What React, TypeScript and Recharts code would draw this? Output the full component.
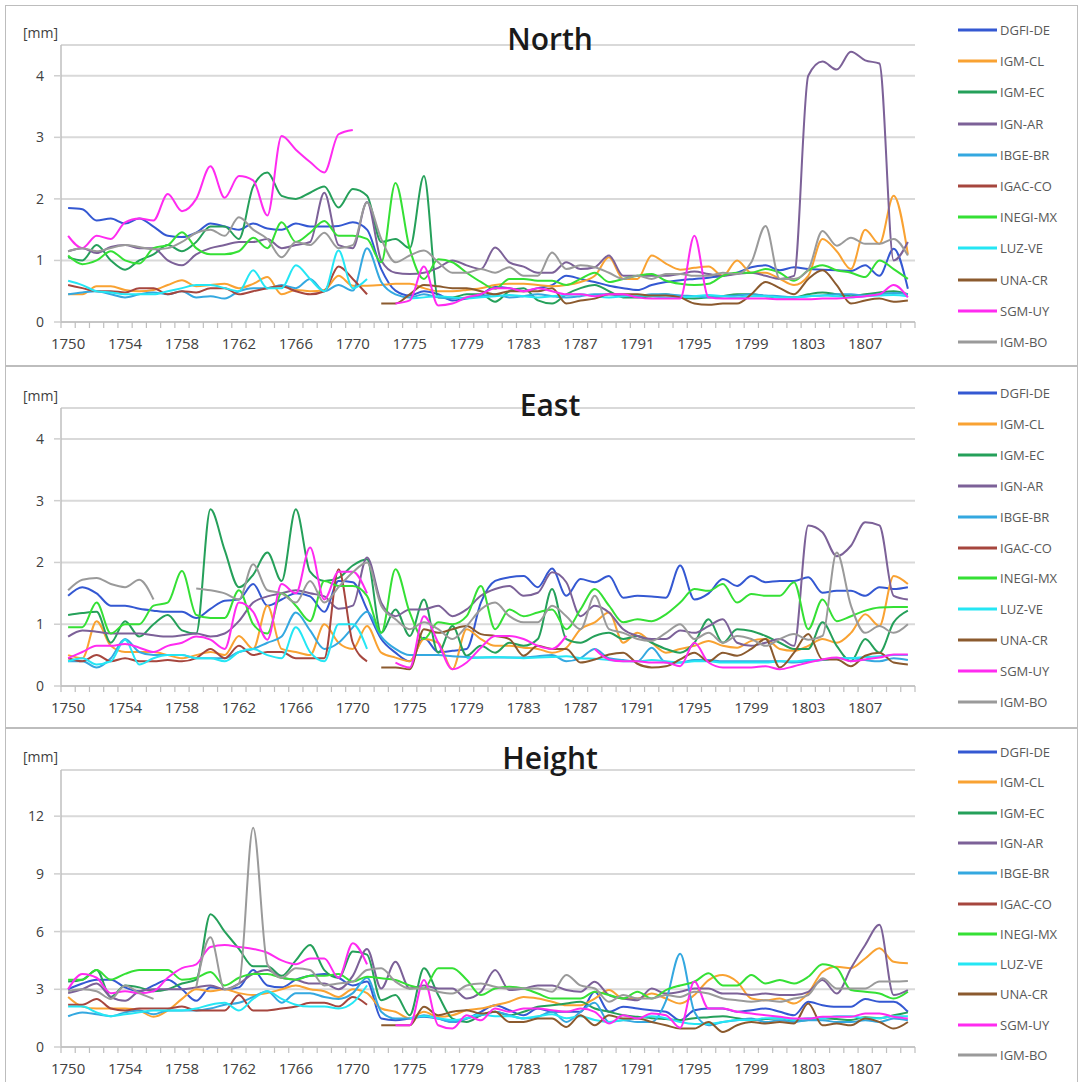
import React from 'react';
import { LineChart, Line, XAxis, YAxis, CartesianGrid } from 'recharts';

const FONT = '"Open Sans", "Noto Sans", sans-serif';
const n = null;

// GPS weeks on the x axis (1773 missing in the source series)
const weeks = [
  1750, 1751, 1752, 1753, 1754, 1755, 1756, 1757, 1758, 1759,
  1760, 1761, 1762, 1763, 1764, 1765, 1766, 1767, 1768, 1769,
  1770, 1771, 1772, 1774, 1775, 1776, 1777, 1778, 1779, 1780,
  1781, 1782, 1783, 1784, 1785, 1786, 1787, 1788, 1789, 1790,
  1791, 1792, 1793, 1794, 1795, 1796, 1797, 1798, 1799, 1800,
  1801, 1802, 1803, 1804, 1805, 1806, 1807, 1808, 1809, 1810,
];

const northTicks = [0, 1, 2, 3, 4];
const eastTicks = [0, 1, 2, 3, 4];
const heightTicks = [0, 3, 6, 9, 12];

// ── North [mm] ───────────────────────────────────────────────
const northDE = [1.85,1.83,1.65,1.68,1.6,1.68,1.55,1.4,1.38,1.45, 1.6,1.55,1.5,1.6,1.52,1.5,1.6,1.55,1.55,1.56, 1.62,1.5,0.86,0.51,0.43,0.5,0.45,0.35,0.38,0.45, 0.57,0.55,0.5,0.55,0.6,0.75,0.7,0.65,0.59,0.55, 0.52,0.6,0.65,0.68,0.7,0.72,0.75,0.8,0.89,0.92, 0.84,0.89,0.86,0.85,0.84,0.83,0.92,0.75,1.19,0.54];
const northCL = [0.45,0.45,0.58,0.58,0.52,0.5,0.52,0.6,0.68,0.58, 0.6,0.62,0.55,0.62,0.73,0.45,0.52,0.5,0.52,0.75, 0.59,0.59,0.6,0.62,0.62,0.55,0.5,0.5,0.52,0.55, 0.6,0.62,0.62,0.6,0.58,0.6,0.65,0.75,1.05,0.7, 0.7,1.08,0.95,0.85,0.88,0.9,0.75,1.0,0.8,0.8, 0.7,0.6,0.75,1.35,1.15,0.86,1.5,1.27,2.05,1.1];
const northEC = [1.05,1.0,1.25,1.0,0.85,1.0,1.1,1.25,1.15,1.3, 1.55,1.55,1.35,2.2,2.43,2.05,2.0,2.1,2.2,1.86, 2.16,2.05,1.3,1.35,1.2,2.37,0.4,0.4,0.45,0.45, 0.33,0.5,0.55,0.35,0.3,0.45,0.55,0.6,0.5,0.4, 0.4,0.42,0.45,0.4,0.38,0.4,0.42,0.45,0.45,0.42, 0.4,0.4,0.45,0.48,0.45,0.42,0.45,0.48,0.5,0.45];
const northAR = [1.15,1.2,1.12,1.22,1.25,1.2,1.2,1.0,0.92,1.1, 1.2,1.25,1.3,1.3,1.35,1.2,1.25,1.3,2.1,1.25, 1.2,1.95,1.0,0.8,0.78,0.8,0.88,1.0,0.92,0.86, 1.21,0.97,0.9,0.8,0.8,0.97,0.86,0.89,1.08,0.75, 0.75,0.75,0.75,0.78,0.82,0.78,0.75,0.78,0.8,0.75, 0.7,0.75,4.0,4.23,4.1,4.39,4.25,4.2,1.0,1.3];
const northBR = [0.45,0.48,0.5,0.45,0.4,0.45,0.48,0.45,0.5,0.4, 0.42,0.38,0.5,0.55,0.55,0.6,0.55,0.7,0.5,0.6, 0.51,1.2,0.65,0.45,0.4,0.45,0.4,0.38,0.4,0.42, 0.45,0.4,0.42,0.45,0.42,0.4,0.42,0.45,0.45,0.42, 0.42,0.45,0.45,0.43,0.42,0.4,0.42,0.43,0.45,0.43, 0.42,0.4,0.42,0.43,0.45,0.45,0.43,0.45,0.47,0.45];
const northCO = [0.6,0.55,0.5,0.5,0.48,0.55,0.55,0.45,0.5,0.48, 0.55,0.55,0.45,0.5,0.55,0.58,0.5,0.45,0.5,0.9, 0.7,0.45,n,n,n,n,n,n,n,n, n,n,n,n,n,n,n,n,n,n, n,n,n,n,n,n,n,n,n,n, n,n,n,n,n,n,n,n,n,n];
const northMX = [1.08,0.94,1.0,1.15,1.0,0.95,1.2,1.25,1.46,1.2, 1.1,1.1,1.15,1.37,1.2,1.62,1.3,1.45,1.64,1.4, 1.4,1.35,0.97,2.26,1.19,0.7,1.02,0.97,0.8,0.65, 0.54,0.7,0.7,0.67,0.67,0.6,0.7,0.8,0.65,0.7, 0.75,0.78,0.67,0.62,0.6,0.62,0.75,0.8,0.8,0.86, 0.8,0.67,0.84,0.92,0.84,0.8,0.73,1.0,0.86,0.7];
const northVE = [0.67,0.6,0.5,0.48,0.45,0.45,0.45,0.5,0.55,0.6, 0.6,0.55,0.5,0.84,0.55,0.55,0.92,0.7,0.5,1.16, 0.55,0.7,n,n,0.38,0.4,0.42,0.4,0.38,0.4, 0.42,0.44,0.42,0.4,0.42,0.44,0.45,0.42,0.4,0.42, 0.44,0.42,0.4,0.4,0.42,0.44,0.42,0.4,0.42,0.42, 0.4,0.4,0.42,0.43,0.42,0.4,0.42,0.43,0.44,0.42];
const northCR = [n,n,n,n,n,n,n,n,n,n, n,n,n,n,n,n,n,n,n,n, n,n,0.3,0.3,0.45,0.6,0.58,0.55,0.55,0.5, 0.45,0.5,0.5,0.5,0.55,0.3,0.35,0.38,0.45,0.45, 0.45,0.43,0.43,0.4,0.3,0.28,0.3,0.3,0.45,0.65, 0.55,0.45,0.7,0.84,0.6,0.3,0.35,0.38,0.33,0.35];
const northUY = [1.4,1.2,1.4,1.35,1.62,1.68,1.65,2.08,1.8,2.0, 2.53,2.02,2.37,2.3,1.73,3.02,2.8,2.6,2.43,3.05, 3.12,n,n,0.3,0.35,0.9,0.27,0.3,0.4,0.45, 0.55,0.55,0.5,0.55,0.5,0.45,0.45,0.42,0.45,0.45, 0.4,0.38,0.38,0.38,1.4,0.4,0.38,0.38,0.38,0.38, 0.37,0.37,0.37,0.38,0.38,0.4,0.42,0.45,0.6,0.4];
const northBO = [1.15,1.2,1.15,1.2,1.25,1.22,1.18,1.2,1.3,1.45, 1.5,1.4,1.7,1.5,1.35,1.05,1.3,1.25,1.45,1.2, 1.25,1.94,1.35,0.97,1.08,1.16,0.97,0.8,0.8,0.86, 0.8,0.89,0.75,0.75,1.13,0.86,0.92,0.89,0.8,0.7, 0.75,0.7,0.78,0.78,0.75,0.75,0.8,0.78,0.97,1.56, 0.7,0.7,0.85,1.48,1.24,1.37,1.27,1.27,1.35,1.08];

// ── East [mm] ────────────────────────────────────────────────
const eastDE = [1.46,1.6,1.5,1.3,1.3,1.25,1.22,1.2,1.2,1.1, 1.25,1.38,1.4,1.65,1.3,1.4,1.5,1.45,1.2,1.7, 1.68,1.24,0.76,0.54,0.4,0.78,0.55,0.57,0.6,1.35, 1.7,1.76,1.78,1.6,1.9,1.46,1.73,1.68,1.78,1.43, 1.46,1.45,1.43,1.95,1.4,1.5,1.73,1.62,1.78,1.68, 1.7,1.7,1.76,1.51,1.54,1.54,1.46,1.6,1.57,1.6];
const eastCL = [0.5,0.45,1.05,0.65,0.55,0.55,0.55,0.5,0.45,0.5, 0.55,0.5,0.81,0.6,1.3,0.6,0.55,0.5,1.0,0.7, 0.6,0.97,0.54,0.46,0.4,0.76,0.7,0.27,0.92,0.76, 0.65,0.65,0.62,0.6,0.54,0.62,0.92,1.03,1.19,0.7, 0.86,0.7,0.54,0.6,0.65,0.73,0.65,0.62,0.73,0.76, 0.6,0.57,0.65,0.76,0.7,0.86,1.16,0.97,1.78,1.65];
const eastEC = [1.15,1.18,1.2,0.7,1.05,0.8,1.0,1.15,0.9,0.85, 2.86,2.2,1.6,1.8,2.16,1.7,2.86,1.85,1.7,1.75, 1.95,2.05,0.86,1.24,0.81,1.4,0.54,0.97,0.49,0.65, 0.54,0.7,0.65,0.76,1.57,0.76,0.7,0.81,0.86,0.76, 0.81,0.7,0.6,0.54,0.7,1.08,0.7,0.92,0.89,0.81, 0.7,0.6,0.6,1.03,0.65,0.4,0.76,0.54,1.03,1.22];
const eastAR = [0.8,0.9,0.88,0.85,0.85,0.85,0.82,0.8,0.82,0.85, 0.8,0.85,1.05,1.35,1.45,1.5,1.55,1.5,1.45,1.25, 1.3,2.08,1.35,1.13,1.24,1.24,1.3,1.13,1.24,1.46, 1.57,1.62,1.46,1.51,1.84,1.68,1.13,1.3,1.19,0.92, 0.81,0.76,0.76,0.9,0.86,0.97,1.08,0.7,0.65,0.7, 0.76,0.65,2.6,2.49,2.1,2.27,2.65,2.6,1.46,1.4];
const eastBR = [0.4,0.4,0.3,0.45,0.76,0.55,0.5,0.5,0.5,0.45, 0.45,0.45,0.55,0.6,0.7,0.8,1.19,0.9,0.6,0.7, 0.95,1.2,0.8,0.6,0.5,0.5,0.5,0.48,0.47,0.46, 0.46,0.46,0.46,0.48,0.5,0.4,0.45,0.6,0.45,0.42, 0.4,0.62,0.38,0.38,0.42,0.42,0.4,0.4,0.4,0.4, 0.4,0.38,0.4,0.42,0.45,0.45,0.42,0.4,0.45,0.42];
const eastCO = [0.45,0.4,0.5,0.4,0.45,0.4,0.4,0.42,0.4,0.45, 0.6,0.45,0.65,0.5,0.55,0.55,0.45,0.45,0.45,1.89, 0.7,0.4,n,n,n,n,n,n,n,n, n,n,n,n,n,n,n,n,n,n, n,n,n,n,n,n,n,n,n,n, n,n,n,n,n,n,n,n,n,n];
const eastMX = [0.95,0.95,1.35,0.85,1.0,1.0,1.3,1.35,1.86,1.15, 1.1,1.1,1.55,1.0,0.85,1.5,1.3,1.05,1.7,1.62, 1.62,1.46,0.86,1.89,1.19,0.76,1.03,1.0,1.13,1.62, 0.92,1.24,1.13,1.19,1.24,0.92,1.24,1.57,1.3,1.03, 1.08,1.05,1.16,1.35,1.57,1.54,1.65,1.35,1.49,1.46, 1.46,1.68,0.92,1.4,1.05,1.13,1.22,1.27,1.28,1.28];
const eastVE = [0.4,0.45,0.35,0.4,0.75,0.35,0.45,0.5,0.5,0.45, 0.45,0.4,0.55,0.6,0.5,0.45,0.95,0.55,0.4,1.0, 1.0,0.6,n,n,n,n,n,n,0.45,0.46, 0.47,0.46,0.45,0.46,0.47,0.48,0.45,0.44,0.42,0.4, 0.4,0.42,0.4,0.38,0.4,0.4,0.38,0.38,0.38,0.38, 0.4,0.4,0.42,0.42,0.45,0.45,0.47,0.48,0.5,0.5];
const eastCR = [n,n,n,n,n,n,n,n,n,n, n,n,n,n,n,n,n,n,n,n, n,n,0.3,0.3,0.27,0.92,0.86,0.92,0.97,0.84, 0.81,0.76,0.49,0.65,0.6,0.6,0.38,0.43,0.51,0.54, 0.36,0.3,0.32,0.43,0.54,0.4,0.54,0.49,0.6,0.76, 0.3,0.54,0.84,0.43,0.43,0.32,0.49,0.54,0.38,0.35];
const eastUY = [0.45,0.55,0.65,0.65,0.68,0.62,0.55,0.65,0.7,0.8, 0.75,0.6,1.35,1.2,0.75,1.65,1.5,2.24,1.4,1.85, 1.85,1.5,n,0.38,0.3,1.13,0.7,0.27,0.38,0.62, 0.81,0.81,0.76,0.65,0.6,0.81,n,0.6,0.43,0.4, 0.4,0.38,0.38,0.32,0.7,0.38,0.3,0.3,0.3,0.32, 0.27,0.32,0.38,0.43,0.46,0.4,0.43,0.46,0.51,0.51];
const eastBO = [1.55,1.72,1.75,1.65,1.6,1.72,1.4,n,n,1.58, 1.55,1.5,1.4,1.97,1.55,1.5,1.35,1.7,1.35,1.6, 1.84,2.0,1.3,1.08,0.92,1.03,0.92,0.76,0.97,1.24, 1.35,1.13,1.03,1.03,1.3,1.13,0.92,1.46,0.92,0.86, 0.76,0.73,0.86,1.0,0.76,0.86,0.7,0.81,0.76,0.65, 0.76,0.84,0.75,0.81,2.16,1.3,0.86,0.97,0.86,1.0];

// ── Height [mm] ──────────────────────────────────────────────
const heightDE = [3.0,3.3,3.5,3.5,3.1,2.9,3.2,3.5,3.0,2.4, 3.1,3.0,3.1,4.0,3.2,3.1,3.5,3.7,3.8,3.6, 3.2,3.4,1.48,1.39,1.48,1.57,1.48,1.3,1.48,1.83, 2.17,1.91,1.65,2.0,1.83,1.83,1.83,2.87,1.83,2.09, 2.0,1.91,1.83,1.39,1.91,2.0,2.0,1.83,1.91,2.0, 1.83,1.65,2.35,2.17,2.09,2.09,2.5,2.35,2.35,1.83];
const heightCL = [2.6,2.1,2.0,2.0,2.0,1.9,1.57,1.9,2.5,3.0, 2.9,3.0,2.8,2.7,2.8,3.0,3.2,3.0,2.9,2.6, 3.0,2.8,2.0,1.83,1.48,1.83,1.57,1.65,1.91,2.0, 2.17,2.35,2.6,2.52,2.35,2.17,2.17,2.52,2.96,2.52, 2.52,2.78,2.52,2.26,2.7,3.48,3.74,3.39,2.52,2.43, 2.52,2.26,2.8,3.9,4.17,4.1,4.6,5.13,4.43,4.35];
const heightEC = [3.4,3.5,4.0,2.6,3.2,3.1,2.9,3.0,3.3,3.5, 6.9,6.0,5.1,4.2,4.2,3.7,4.5,5.3,4.0,3.6, 4.96,4.8,2.43,2.7,1.65,4.09,2.7,1.48,1.3,1.65, 1.83,1.65,1.83,2.09,2.17,2.26,2.35,2.0,1.83,1.65, 1.57,1.5,1.45,1.4,1.5,1.55,1.6,1.5,1.4,1.45, 1.5,1.35,1.4,1.5,1.45,1.4,1.55,1.5,1.65,1.8];
const heightAR = [2.8,3.0,3.3,2.6,2.4,2.9,3.0,3.0,3.0,3.1, 3.2,3.0,3.3,3.8,4.0,3.6,3.5,3.3,3.3,3.0, 3.7,5.1,3.04,4.43,3.04,3.2,3.04,3.04,2.52,2.87, 4.0,2.96,3.04,3.2,3.2,2.96,2.87,3.39,2.7,2.52, 2.43,3.04,2.78,2.87,3.04,3.04,2.78,2.78,2.7,2.78, 2.7,2.7,2.87,3.48,2.78,4.09,5.3,6.35,2.7,2.96];
const heightBR = [1.6,1.8,1.7,1.6,1.8,1.9,1.7,1.9,1.9,1.9, 2.0,2.2,2.3,2.6,2.9,2.3,2.8,2.8,2.6,2.5, 2.8,3.6,1.83,1.48,1.48,1.65,1.48,1.3,1.48,1.65, 1.83,1.65,1.48,1.57,1.83,1.3,1.83,2.3,1.3,1.39, 1.3,1.3,2.4,4.85,1.83,1.13,1.3,1.39,1.48,1.3, 1.39,1.3,1.39,1.39,1.3,1.3,1.39,1.3,1.48,1.39];
const heightCO = [2.2,2.2,2.5,2.0,1.9,2.0,2.0,2.0,2.1,1.9, 1.9,1.9,2.7,1.9,1.9,2.0,2.1,2.3,2.3,2.1, 2.6,2.2,n,n,n,n,n,n,n,n, n,n,n,n,n,n,n,n,n,n, n,n,n,n,n,n,n,n,n,n, n,n,n,n,n,n,n,n,n,n];
const heightMX = [3.5,3.5,4.0,3.5,3.8,4.0,4.0,4.0,3.5,3.6, 3.9,3.2,3.6,3.8,3.8,3.6,3.5,3.7,3.7,3.8, 3.4,3.65,3.57,3.48,3.2,3.04,4.1,4.1,3.5,2.7, 3.04,3.13,3.04,2.78,2.52,2.52,2.52,2.87,2.7,2.52, 2.87,2.52,2.96,3.2,3.39,3.83,3.2,3.2,3.74,3.3, 3.48,3.3,3.65,4.3,4.1,2.96,2.87,2.78,2.52,2.87];
const heightVE = [2.1,2.1,1.8,1.6,1.7,1.8,1.9,1.9,1.9,2.0, 2.2,2.3,1.9,2.5,2.9,2.5,2.2,2.1,2.1,2.0, 2.3,3.2,n,n,1.5,1.6,1.5,1.4,1.5,1.7, 1.6,1.6,1.5,1.6,1.7,1.5,1.6,1.4,1.3,1.4, 1.5,1.6,1.5,1.3,1.2,1.2,1.3,1.4,1.4,1.5, 1.5,1.4,1.5,1.5,1.6,1.6,1.5,1.5,1.6,1.6];
const heightCR = [n,n,n,n,n,n,n,n,n,n, n,n,n,n,n,n,n,n,n,n, n,n,1.13,1.13,1.13,2.09,1.65,1.83,1.91,1.74, 1.83,1.3,1.3,1.48,1.48,1.04,1.65,1.13,1.65,1.48, 1.48,1.3,1.13,0.96,0.96,1.3,0.78,1.13,1.3,1.22, 1.3,1.22,2.26,1.13,1.22,1.13,1.48,1.3,0.96,1.3];
const heightUY = [3.0,3.8,3.6,2.8,2.9,2.8,2.9,3.6,4.1,4.3, 5.2,5.3,5.2,5.1,4.9,4.5,4.3,4.6,4.6,3.6, 5.4,4.3,n,1.13,1.13,3.48,1.13,0.96,1.65,1.39, 2.0,1.83,2.0,2.0,1.91,1.83,2.0,1.83,1.22,1.65, 1.48,1.74,1.65,1.0,3.4,2.0,2.0,1.83,1.74,1.65, 1.57,1.48,1.48,1.57,1.57,1.57,1.74,1.74,1.57,1.48];
const heightBO = [2.9,3.0,2.9,2.5,3.2,2.8,2.5,n,n,3.1, 5.7,3.0,3.3,11.4,4.3,3.6,4.1,4.0,3.2,3.3, 3.4,4.0,4.09,3.4,3.04,3.04,2.87,2.78,3.2,3.3, 3.13,3.04,3.04,3.04,2.87,3.74,3.2,3.04,2.35,2.7, 2.52,2.52,2.7,2.6,2.87,2.78,2.52,2.43,2.35,2.43, 2.35,2.52,2.7,3.57,3.04,3.04,3.04,3.4,3.4,3.43];

// ── Series look ──────────────────────────────────────────────
const series = [
  { key: 'DE', name: 'DGFI-DE', color: '#3458d2' },
  { key: 'CL', name: 'IGM-CL', color: '#f9a232' },
  { key: 'EC', name: 'IGM-EC', color: '#25a05a' },
  { key: 'AR', name: 'IGN-AR', color: '#7c6198' },
  { key: 'BR', name: 'IBGE-BR', color: '#34a8e0' },
  { key: 'CO', name: 'IGAC-CO', color: '#a6463e' },
  { key: 'MX', name: 'INEGI-MX', color: '#35e035' },
  { key: 'VE', name: 'LUZ-VE', color: '#25e6f4' },
  { key: 'CR', name: 'UNA-CR', color: '#8b5a2e' },
  { key: 'UY', name: 'SGM-UY', color: '#ff2bf0' },
  { key: 'BO', name: 'IGM-BO', color: '#9a9a9a' },
];

type Vals = Record<string, (number | null)[]>;

function buildRows(vals: Vals) {
  return weeks.map((w, i) => {
    const row: Record<string, number | null> = { i };
    series.forEach(s => { row[s.key] = vals[s.key][i]; });
    return row;
  });
}

// boundary tick marks between weeks + labelled ticks every 4th week
const xTicks: number[] = [];
weeks.forEach((w, i) => {
  xTicks.push(i - 0.5);
  if (i % 4 === 0) xTicks.push(i);
});
xTicks.push(weeks.length - 0.5);

function WeekTick(props: any) {
  const { x, y, payload } = props;
  const v = payload.value as number;
  if (Number.isInteger(v)) {
    return (
      <text x={x} y={y + 27} textAnchor="middle" fontSize={15} fill="#404040" fontFamily={FONT}>
        {weeks[v]}
      </text>
    );
  }
  return <line x1={x} y1={y} x2={x} y2={y + 6} stroke="#bfbfbf" strokeWidth={1.2} />;
}

type PanelProps = {
  title: string;
  vals: Vals;
  top: number;
  boxH: number;
  chartH: number;
  axisTop: number;
  xAxisH: number;
  yMax: number;
  yTicks: number[];
  titleY: number;
  mmY: number;
  legendTop: number;
  legendStep: number;
};

function Panel(p: PanelProps) {
  const rows = buildRows(p.vals);
  return (
    <div
      style={{
        position: 'absolute', left: 5, top: p.top, width: 1073, height: p.boxH,
        border: '1px solid #bdbdbd', boxSizing: 'border-box', background: '#fff', overflow: 'hidden',
      }}
    >
      <div style={{ position: 'absolute', left: 0, top: 0 }}>
        <LineChart width={930} height={p.chartH} data={rows} margin={{ top: p.axisTop, right: 21, bottom: 0, left: 0 }}>
          <CartesianGrid vertical={false} stroke="#d9d9d9" strokeWidth={2} />
          <XAxis
            type="number"
            dataKey="i"
            domain={[-0.5, weeks.length - 0.5]}
            ticks={xTicks}
            interval={0}
            height={p.xAxisH}
            tickLine={false}
            tickSize={0}
            tickMargin={0}
            axisLine={{ stroke: '#bfbfbf', strokeWidth: 1.5 }}
            tick={(t: any) => <WeekTick {...t} />}
            allowDataOverflow
          />
          <YAxis
            type="number"
            domain={[0, p.yMax]}
            ticks={p.yTicks}
            interval={0}
            width={55}
            tickSize={7}
            tickMargin={10}
            axisLine={{ stroke: '#bfbfbf', strokeWidth: 1.5 }}
            tickLine={{ stroke: '#cfcfcf', strokeWidth: 1.5 }}
            tick={{ fontSize: 14, fill: '#404040', fontFamily: FONT }}
            allowDataOverflow
          />
          {series.map(s => (
            <Line
              key={s.key}
              dataKey={s.key}
              name={s.name}
              type="monotone"
              stroke={s.color}
              strokeWidth={2}
              dot={false}
              activeDot={false}
              connectNulls={false}
              isAnimationActive={false}
            />
          ))}
        </LineChart>
      </div>
      <div style={{ position: 'absolute', left: 17, top: p.mmY, transform: 'translateY(-50%)', fontFamily: FONT, fontSize: 14, color: '#404040', lineHeight: 1 }}>
        [mm]
      </div>
      <div style={{ position: 'absolute', left: 544, top: p.titleY, transform: 'translate(-50%, -50%)', fontFamily: FONT, fontSize: 30, fontWeight: 600, color: '#1a1a1a', lineHeight: 1 }}>
        {p.title}
      </div>
      {series.map((s, k) => (
        <div
          key={s.key}
          style={{
            position: 'absolute', left: 952, top: p.legendTop + k * p.legendStep,
            transform: 'translateY(-50%)', display: 'flex', alignItems: 'center',
          }}
        >
          <span style={{ display: 'inline-block', width: 39, height: 3, background: s.color }} />
          <span style={{ marginLeft: 3, fontFamily: FONT, fontSize: 13, color: '#595959', lineHeight: 1 }}>{s.name}</span>
        </div>
      ))}
    </div>
  );
}

export default function App() {
  const north = { DE: northDE, CL: northCL, EC: northEC, AR: northAR, BR: northBR, CO: northCO, MX: northMX, VE: northVE, CR: northCR, UY: northUY, BO: northBO };
  const east = { DE: eastDE, CL: eastCL, EC: eastEC, AR: eastAR, BR: eastBR, CO: eastCO, MX: eastMX, VE: eastVE, CR: eastCR, UY: eastUY, BO: eastBO };
  const height = { DE: heightDE, CL: heightCL, EC: heightEC, AR: heightAR, BR: heightBR, CO: heightCO, MX: heightMX, VE: heightVE, CR: heightCR, UY: heightUY, BO: heightBO };
  return (
    <div style={{ position: 'relative', width: 1078, height: 1082, overflow: 'hidden', background: '#fff' }}>
      <style>{'body{margin:0}'}</style>
      <Panel title="North" vals={north} top={5} boxH={361} chartH={359} axisTop={39} xAxisH={43}
        yMax={4.5} yTicks={northTicks} titleY={33} mmY={27} legendTop={24} legendStep={31.2} />
      <Panel title="East" vals={east} top={366} boxH={362} chartH={360} axisTop={41} xAxisH={41}
        yMax={4.5} yTicks={eastTicks} titleY={38} mmY={29} legendTop={26} legendStep={30.9} />
      <Panel title="Height" vals={height} top={728} boxH={360} chartH={352} axisTop={41} xAxisH={34}
        yMax={14.4} yTicks={heightTicks} titleY={29} mmY={28} legendTop={23} legendStep={30.3} />
    </div>
  );
}
